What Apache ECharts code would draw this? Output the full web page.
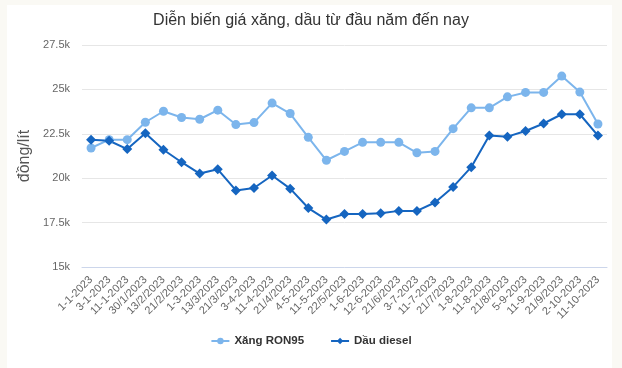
<!DOCTYPE html>
<html><head><meta charset="utf-8">
<script src="https://cdn.jsdelivr.net/npm/echarts@6/dist/echarts.min.js"></script>
<style>
html,body{margin:0;padding:0;background:#faf9f4;}
#frame{position:absolute;left:7px;top:5px;width:605px;height:363px;background:#fff;}
#c{position:absolute;left:0;top:0;width:622px;height:368px;}
</style></head>
<body><div id="frame"></div><div id="c"></div>
<script>
const categories = ["1-1-2023","3-1-2023","11-1-2023","30/1/2023","13/2/2023","21/2/2023","1-3-2023","13/3/2023","21/3/2023","3-4-2023","11-4-2023","21/4/2023","4-5-2023","11-5-2023","22/5/2023","1-6-2023","12-6-2023","21/6/2023","3-7-2023","11-7-2023","21/7/2023","1-8-2023","11-8-2023","21/8/2023","5-9-2023","11-9-2023","21/9/2023","2-10-2023","11-10-2023"];
const ron95 = [21700,22170,22170,23150,23770,23420,23320,23830,23020,23130,24230,23640,22300,21010,21510,22020,22020,22020,21430,21510,22790,23960,23960,24580,24830,24830,25750,24850,23050];
const diesel = [22170,22110,21640,22530,21600,20900,20260,20500,19310,19450,20150,19410,18320,17670,17980,17980,18030,18160,18160,18630,19510,20620,22410,22340,22660,23080,23600,23600,22400];
const yTicks = {min:15000, max:27500, interval:2500};
const seriesNames = ["Xăng RON95","Dầu diesel"];

const chart = echarts.init(document.getElementById('c'), null, {renderer:'canvas'});
chart.setOption({
  animation:false,
  backgroundColor:'transparent',
  textStyle:{fontFamily:'Liberation Sans, Arial, sans-serif'},
  title:{text:'Diễn biến giá xăng, dầu từ đầu năm đến nay',left:'center',top:8,
    textStyle:{fontSize:16,fontWeight:'normal',color:'#333',fontFamily:'Liberation Sans, Arial, sans-serif'}},
  grid:{left:82,right:15,top:45,bottom:101,containLabel:false},
  legend:{bottom:16,left:'center',itemGap:26,itemWidth:18,itemHeight:8,
    textStyle:{fontSize:11.5,fontWeight:'bold',color:'#333'},
    data:seriesNames},
  xAxis:{type:'category',data:categories,boundaryGap:true,
    axisLine:{lineStyle:{color:'#ccd6eb'}},axisTick:{show:false},
    axisLabel:{rotate:45,interval:0,fontSize:11,color:'#666',margin:11}},
  yAxis:{type:'value',min:yTicks.min,max:yTicks.max,interval:yTicks.interval,
    name:'đồng/lít',nameLocation:'middle',nameRotate:90,nameGap:42,
    nameTextStyle:{fontSize:16,color:'#555'},
    axisLine:{show:false},axisTick:{show:false},
    splitLine:{lineStyle:{color:'#e6e6e6'}},
    axisLabel:{fontSize:11,color:'#666',margin:12,formatter:v=>(v/1000)+'k'}},
  series:[
    {name:seriesNames[0],type:'line',data:ron95,symbol:'circle',symbolSize:9,
      itemStyle:{color:'#7cb5ec'},lineStyle:{width:2,color:'#7cb5ec'}},
    {name:seriesNames[1],type:'line',data:diesel,symbol:'diamond',symbolSize:10,
      itemStyle:{color:'#1565c0'},lineStyle:{width:2,color:'#1565c0'}}
  ]
});
</script></body></html>
